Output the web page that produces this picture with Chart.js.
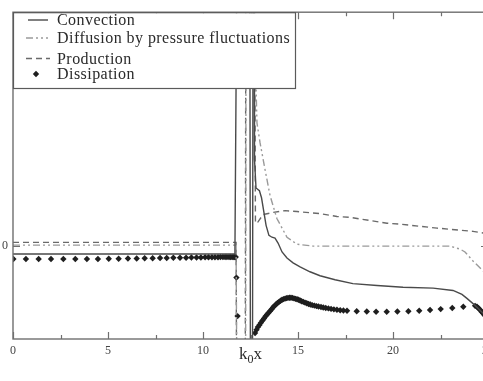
<!DOCTYPE html>
<html>
<head>
<meta charset="utf-8">
<script src="https://cdn.jsdelivr.net/npm/chart.js@4.4.0/dist/chart.umd.min.js"></script>
<style>
  html, body { margin: 0; padding: 0; background: #fff; overflow: hidden; }
  #wrap { width: 500px; height: 381px; }
</style>
</head>
<body>
<div id="wrap"><canvas id="c" width="500" height="381"></canvas></div>
<script>
// Turbulent kinetic energy budget terms across the shock, versus k0x
const seriesNames = ['Convection', 'Diffusion by pressure fluctuations', 'Production', 'Dissipation'];
const xTickValues = [0, 5, 10, 15, 20, 25];
const yTickValues = [0];

const convX = [0, 11.68, 11.80, 12.46, 12.50, 12.60, 12.64, 12.70, 12.71, 12.79, 12.97, 13.08, 13.32, 13.47, 13.63, 13.79, 13.95, 14.16, 14.42, 14.74, 15.11, 15.63, 16.16, 16.95, 17.89, 19.16, 20.53, 22.11, 23.16, 23.63, 23.89, 24.32, 24.74, 25.0];
const convY = [-0.36, -0.36, 14, 14, -8, -8, 14, 14, 3.70, 2.47, 2.35, 2.05, 0.87, 0.44, 0.36, 0.32, 0.11, -0.27, -0.53, -0.74, -0.91, -1.12, -1.29, -1.46, -1.63, -1.71, -1.78, -1.82, -1.92, -2.09, -2.26, -2.56, -2.90, -3.10];

const diffX = [0, 11.74, 11.80, 12.24, 12.27, 12.64, 12.70, 12.76, 12.84, 13.0, 13.26, 13.53, 13.89, 14.42, 14.95, 15.79, 19.32, 23.0, 23.53, 23.79, 24.21, 24.74, 25.0];
const diffY = [0.02, 0.02, -8, -8, 14, 14, 10.0, 7.80, 5.26, 4.42, 3.28, 2.14, 1.16, 0.36, 0.06, -0.02, -0.02, -0.02, -0.15, -0.27, -0.66, -1.08, -1.30];

const prodX = [0, 11.74, 11.78, 12.22, 12.26, 12.70, 12.76, 12.88, 13.16, 13.68, 14.32, 14.95, 16.16, 17.05, 17.74, 19.68, 20.37, 22.32, 24.21, 24.74, 25.0];
const prodY = [0.14, 0.14, -8, -8, 14, 14, 0.96, 1.00, 1.33, 1.42, 1.50, 1.46, 1.37, 1.25, 1.21, 0.96, 0.92, 0.75, 0.61, 0.54, 0.50];

const dissX = [0.02, 0.68, 1.35, 2.0, 2.65, 3.28, 3.89, 4.47, 5.04, 5.56, 6.05, 6.51, 6.93, 7.35, 7.74, 8.09, 8.44, 8.79, 9.11, 9.39, 9.66, 9.89, 10.11, 10.29, 10.47, 10.63, 10.79, 10.92, 11.05, 11.16, 11.26, 11.37, 11.45, 11.53, 11.59, 11.65, 11.69, 11.72,
  11.76, 11.82,
  12.74, 12.82, 12.89, 12.97, 13.05, 13.13, 13.21, 13.29, 13.37, 13.45, 13.53, 13.61, 13.68, 13.76, 13.84, 13.92, 14.0, 14.08, 14.16, 14.24, 14.32, 14.39, 14.47, 14.55, 14.63, 14.71, 14.79, 14.87, 14.95, 15.03, 15.11, 15.19, 15.28, 15.37, 15.46, 15.56, 15.65, 15.75, 15.86, 15.97, 16.08, 16.21, 16.33, 16.46, 16.6, 16.74, 16.89, 17.05, 17.22, 17.39, 17.58,
  18.09, 18.62, 19.11, 19.67, 20.23, 20.81, 21.38, 21.95, 22.51, 23.12, 23.7, 24.32,
  24.42, 24.5, 24.58, 24.66, 24.74, 24.82, 24.89, 24.97];
const dissY = [-0.57, -0.57, -0.57, -0.57, -0.57, -0.57, -0.57, -0.57, -0.56, -0.56, -0.55, -0.55, -0.54, -0.54, -0.53, -0.53, -0.52, -0.52, -0.52, -0.51, -0.51, -0.51, -0.50, -0.50, -0.50, -0.50, -0.50, -0.49, -0.49, -0.49, -0.49, -0.49, -0.49, -0.49, -0.49, -0.49, -0.49, -0.49,
  -1.37, -3.02,
  -3.74, -3.60, -3.49, -3.40, -3.30, -3.21, -3.12, -3.03, -2.95, -2.88, -2.80, -2.73, -2.65, -2.58, -2.52, -2.46, -2.41, -2.36, -2.32, -2.29, -2.27, -2.25, -2.24, -2.23, -2.23, -2.24, -2.26, -2.28, -2.30, -2.32, -2.35, -2.38, -2.41, -2.44, -2.47, -2.50, -2.52, -2.55, -2.57, -2.59, -2.61, -2.63, -2.65, -2.67, -2.69, -2.71, -2.73, -2.75, -2.77, -2.78, -2.79,
  -2.81, -2.82, -2.83, -2.83, -2.82, -2.81, -2.79, -2.76, -2.72, -2.67, -2.62, -2.58,
  -2.62, -2.68, -2.75, -2.83, -2.90, -2.98, -3.05, -3.12];

const pts = (xs, ys) => xs.map((x, i) => ({ x: x, y: ys[i] }));

const SERIF = '"Liberation Serif", "Times New Roman", serif';
const AXIS_COLOR = '#6f6f6f';
const TEXT_COLOR = '#2a2a2a';

const styles = [
  { color: '#4a4a4a', dash: [], width: 1.4 },
  { color: '#9a9a9a', dash: [7, 3, 2, 3, 2, 3], width: 1.4 },
  { color: '#6a6a6a', dash: [6, 4], width: 1.4 },
  { color: '#1e1e1e' }
];

// Frame, inward ticks, axis title with subscript and boxed legend
const decorations = {
  id: 'decorations',
  afterDatasetsDraw(chart) {
    const { ctx, chartArea: a, scales: { x, y } } = chart;
    ctx.save();
    ctx.strokeStyle = AXIS_COLOR;
    ctx.lineWidth = 1.4;
    ctx.setLineDash([]);
    ctx.strokeRect(a.left, a.top, a.right - a.left, a.bottom - a.top);

    ctx.lineWidth = 1.2;
    for (let v = 0; v <= 25; v += 2.5) {
      const px = Math.round(x.getPixelForValue(v)) + 0.5;
      const len = (v % 5 === 0) ? 7 : 4;
      ctx.beginPath();
      ctx.moveTo(px, a.bottom); ctx.lineTo(px, a.bottom - len);
      ctx.moveTo(px, a.top); ctx.lineTo(px, a.top + len);
      ctx.stroke();
    }
    yTickValues.forEach(v => {
      const py = Math.round(y.getPixelForValue(v)) + 0.5;
      ctx.beginPath();
      ctx.moveTo(a.left, py); ctx.lineTo(a.left + 7, py);
      ctx.moveTo(a.right, py); ctx.lineTo(a.right - 7, py);
      ctx.stroke();
    });

    // axis title k0x
    ctx.fillStyle = TEXT_COLOR;
    ctx.textBaseline = 'alphabetic';
    ctx.textAlign = 'left';
    const big = '17px ' + SERIF, small = '12px ' + SERIF;
    ctx.font = big; const wk = ctx.measureText('k').width, wx = ctx.measureText('x').width;
    ctx.font = small; const w0 = ctx.measureText('0').width;
    const total = wk + w0 + wx;
    let tx = (a.left + a.right) / 2 - total / 2;
    const base = 359;
    ctx.font = big; ctx.fillText('k', tx, base); tx += wk;
    ctx.font = small; ctx.fillText('0', tx, base + 4); tx += w0;
    ctx.font = big; ctx.fillText('x', tx, base);

    // legend box
    const L = { left: a.left, top: a.top, right: 295, bottom: 88 };
    ctx.fillStyle = '#fff';
    ctx.fillRect(L.left + 1, L.top + 1, L.right - L.left - 1, L.bottom - L.top - 1);
    ctx.strokeStyle = '#5a5a5a';
    ctx.lineWidth = 1.2;
    ctx.strokeRect(L.left + 0.5, L.top + 0.5, L.right - L.left, L.bottom - L.top);

    const rows = [20, 38, 58.5, 74];
    ctx.font = '16px ' + SERIF;
    ctx.letterSpacing = '0.45px';
    ctx.textBaseline = 'middle';
    seriesNames.forEach((name, i) => {
      const yy = rows[i];
      const s = styles[i];
      if (i < 3) {
        ctx.strokeStyle = s.color;
        ctx.lineWidth = s.width;
        ctx.setLineDash(s.dash);
        ctx.beginPath();
        ctx.moveTo(i === 0 ? 28 : 26, yy);
        ctx.lineTo(i === 2 ? 50 : 48, yy);
        ctx.stroke();
        ctx.setLineDash([]);
      } else {
        ctx.fillStyle = s.color;
        ctx.beginPath();
        ctx.moveTo(36, yy - 3.2); ctx.lineTo(39.2, yy); ctx.lineTo(36, yy + 3.2); ctx.lineTo(32.8, yy);
        ctx.closePath(); ctx.fill();
      }
      ctx.fillStyle = TEXT_COLOR;
      ctx.fillText(name, 57, yy + 1);
    });
    ctx.restore();
  }
};

const lineSet = (i, xs, ys) => ({
  label: seriesNames[i],
  data: pts(xs, ys),
  borderColor: styles[i].color,
  borderWidth: styles[i].width,
  borderDash: styles[i].dash,
  pointRadius: 0,
  fill: false,
  tension: 0
});

new Chart(document.getElementById('c'), {
  type: 'line',
  data: {
    datasets: [
      lineSet(0, convX, convY),
      lineSet(1, diffX, diffY),
      lineSet(2, prodX, prodY),
      {
        label: seriesNames[3],
        data: pts(dissX, dissY),
        showLine: false,
        pointStyle: 'rectRot',
        pointRadius: 3.2,
        pointBackgroundColor: styles[3].color,
        pointBorderColor: styles[3].color,
        pointBorderWidth: 0
      }
    ]
  },
  options: {
    responsive: false,
    animation: false,
    devicePixelRatio: 1,
    layout: { padding: { top: 8, right: 12, left: 0, bottom: 0 } },
    plugins: { legend: { display: false }, tooltip: { enabled: false } },
    scales: {
      x: {
        type: 'linear', min: 0, max: 25,
        grid: { display: false, drawTicks: false },
        border: { display: false },
        afterBuildTicks: s => { s.ticks = xTickValues.map(v => ({ value: v })); },
        afterFit: s => { s.height = 42; },
        ticks: { padding: 5, color: '#444', font: { family: SERIF, size: 12 }, maxRotation: 0 }
      },
      y: {
        type: 'linear', min: -4, max: 10,
        grid: { display: false, drawTicks: false },
        border: { display: false },
        afterBuildTicks: s => { s.ticks = yTickValues.map(v => ({ value: v })); },
        afterFit: s => { s.width = 13; },
        ticks: { padding: 5, color: '#444', font: { family: SERIF, size: 12 } }
      }
    }
  },
  plugins: [decorations]
});
</script>
</body>
</html>
